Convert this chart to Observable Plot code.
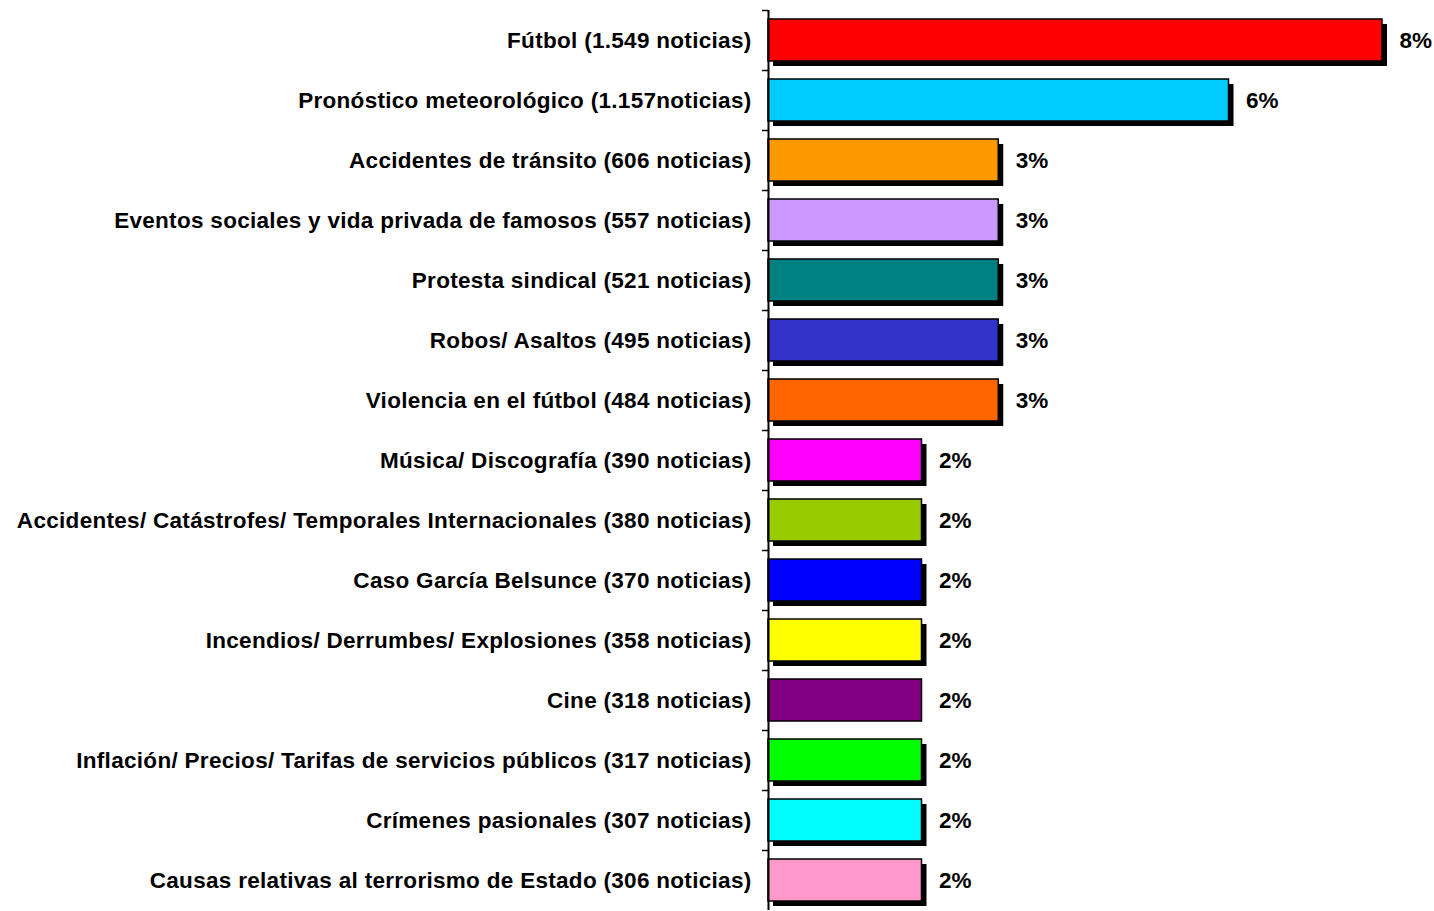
<!DOCTYPE html>
<html>
<head>
<meta charset="utf-8">
<script src="https://cdn.jsdelivr.net/npm/d3@7"></script>
<script src="https://cdn.jsdelivr.net/npm/@observablehq/plot@0.6"></script>
<style>
  html, body { margin: 0; padding: 0; background: #fff; }
  #chart svg { display: block; }
  #chart g[aria-label="y-axis tick label"] text { letter-spacing: 0.3px; }
</style>
</head>
<body>
<div id="chart"></div>
<script>
const categorias = [
  "Fútbol (1.549 noticias)",
  "Pronóstico meteorológico (1.157noticias)",
  "Accidentes de tránsito (606 noticias)",
  "Eventos sociales y vida privada de famosos (557 noticias)",
  "Protesta sindical (521 noticias)",
  "Robos/ Asaltos (495 noticias)",
  "Violencia en el fútbol (484 noticias)",
  "Música/ Discografía (390 noticias)",
  "Accidentes/ Catástrofes/ Temporales Internacionales (380 noticias)",
  "Caso García Belsunce (370 noticias)",
  "Incendios/ Derrumbes/ Explosiones (358 noticias)",
  "Cine (318 noticias)",
  "Inflación/ Precios/ Tarifas de servicios públicos (317 noticias)",
  "Crímenes pasionales (307 noticias)",
  "Causas relativas al terrorismo de Estado (306 noticias)"
];
const porcentajes = [8, 6, 3, 3, 3, 3, 3, 2, 2, 2, 2, 2, 2, 2, 2];
const colores = [
  "#FF0000", "#00CCFF", "#FF9900", "#CC99FF", "#008080",
  "#3333CC", "#FF6600", "#FF00FF", "#99CC00", "#0000FF",
  "#FFFF00", "#800080", "#00FF00", "#00FFFF", "#FF99CC"
];
const sinSombra = ["Cine (318 noticias)"];

const datos = categorias.map((c, i) => ({cat: c, pct: porcentajes[i], color: colores[i]}));
const conSombra = datos.filter(d => !sinSombra.includes(d.cat));

const chart = Plot.plot({
  width: 1434,
  height: 911,
  marginLeft: 768,
  marginRight: 52,
  marginTop: 10,
  marginBottom: 1,
  style: {fontFamily: "'Liberation Sans', Arial, sans-serif", background: "#fff", color: "#000"},
  x: {domain: [0, 8], axis: null},
  y: {domain: categorias, paddingInner: 0.3, paddingOuter: 0.15, align: 0.5, label: null},
  marks: [
    Plot.barX(conSombra, {x: "pct", y: "cat", fill: "#000", dx: 5, dy: 5}),
    Plot.barX(datos, {x: "pct", y: "cat", fill: "color", stroke: "#000", strokeWidth: 1.5}),
    Plot.ruleX([0], {stroke: "#000", strokeWidth: 2}),
    Plot.axisY({tickSize: 6, tickFormat: () => "", dy: -30, stroke: "#000", strokeWidth: 1.5}),
    Plot.axisY({tickSize: 0, tickPadding: 17, fontSize: 22.5, fontWeight: "bold", fill: "#000"}),
    Plot.text(datos, {x: "pct", y: "cat", text: d => d.pct + "%", dx: 17, textAnchor: "start", fontSize: 22.5, fontWeight: "bold", fill: "#000"})
  ]
});
document.getElementById("chart").appendChild(chart);
</script>
</body>
</html>
